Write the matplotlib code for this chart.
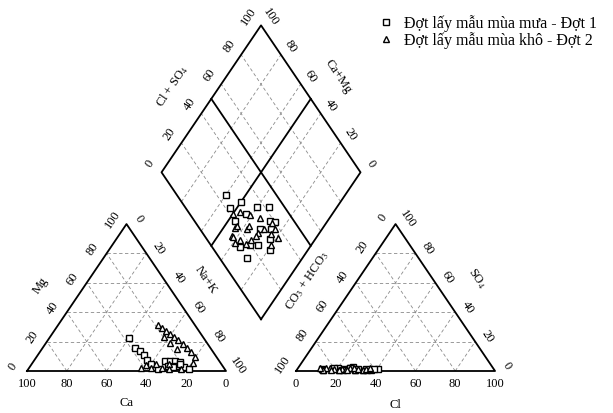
import numpy as np
import matplotlib.pyplot as plt
from matplotlib.lines import Line2D

plt.rcParams['font.family'] = ['Liberation Serif', 'DejaVu Serif']
plt.rcParams['mathtext.fontset'] = 'stix'

# Dot 1 (rainy season) - ionic composition, % meq/l
ca_1 = [37.5, 37.9, 36.4, 35.7, 35.9, 35.3, 27.3, 24.7, 22.2, 20.1, 27.4, 23.4, 19.8, 33.5, 17.9, 25.5, 21.0]
mg_1 = [22.4, 15.6, 13.6, 10.9, 7.5, 4.8, 6.8, 6.8, 6.8, 6.1, 3.4, 3.4, 2.7, 1.4, 1.4, 2.5, 4.5]
cl_1 = [23.5, 20.0, 29.0, 18.5, 26.0, 35.0, 40.5, 27.5, 37.0, 38.5, 18.0, 23.0, 30.5, 12.5, 26.0, 13.0, 34.5]
so4_1 = [1.5, 2.0, 1.0, 1.5, 2.0, 1.0, 1.5, 2.5, 1.0, 1.5, 2.0, 1.0, 1.5, 1.5, 2.0, 1.0, 1.5]

# Dot 2 (dry season)
ca_2 = [18.5, 17.5, 16.6, 15.5, 14.6, 13.5, 12.4, 11.8, 11.1, 19.7, 18.6, 17.1, 41.7, 38.1, 36.7, 32.8, 31.2,
        10.8, 13.9, 26.0, 28.0, 22.0]
mg_2 = [31.3, 29.3, 27.2, 25.2, 23.1, 21.1, 18.4, 15.6, 12.9, 23.1, 19.0, 15.0, 2.0, 4.1, 2.0, 4.8, 2.0,
        9.5, 5.4, 5.0, 1.5, 1.5]
cl_2 = [21.0, 24.5, 16.0, 29.0, 22.5, 33.0, 26.0, 36.5, 33.0, 12.5, 14.0, 21.0, 18.5, 13.0, 11.0, 24.5, 17.0,
        28.0, 34.5, 25.0, 30.5, 36.0]
so4_2 = [1.0, 1.5, 2.0, 1.0, 1.5, 1.0, 2.0, 1.5, 1.0, 1.5, 2.0, 1.0, 1.5, 1.0, 2.0, 1.5, 1.0,
         2.0, 1.5, 1.0, 1.5, 2.0]

labels = ['Đợt lấy mẫu mùa mưa - Đợt 1', 'Đợt lấy mẫu mùa khô - Đợt 2']
ticks = [0, 20, 40, 60, 80, 100]

H = np.sqrt(3) / 2
GAP = 0.352
X0 = 1 + GAP                      # left corner of anion triangle
BX, BY = 1 + GAP / 2, GAP * H     # bottom corner of diamond


def cation_xy(ca, mg):
    ca, mg = np.asarray(ca) / 100, np.asarray(mg) / 100
    na = 1 - ca - mg
    return na + mg / 2, mg * H


def anion_xy(cl, so4):
    cl, so4 = np.asarray(cl) / 100, np.asarray(so4) / 100
    return X0 + cl + so4 / 2, so4 * H


def diamond_xy(ca, mg, cl, so4):
    c = (np.asarray(ca) + np.asarray(mg)) / 100
    s = (np.asarray(cl) + np.asarray(so4)) / 100
    return BX + 0.5 * (s - c), BY + H * (s + c)


fig = plt.figure(figsize=(6.13, 4.14), dpi=100)
ax = fig.add_axes([0, 0, 1, 1])
ax.set_xlim(-27 / 199, 586 / 199)
ax.set_ylim(-42 / 169.7 * H / 0.866, 372 / 169.7 * H / 0.866)
ax.axis('off')

grid = dict(color='#8a8a8a', lw=0.6, ls=(0, (4, 3)), zorder=1)
edge = dict(color='black', lw=1.3, zorder=2)

# triangles
for x0 in (0, X0):
    for k in (0.2, 0.4, 0.6, 0.8):
        ax.plot([x0 + k / 2, x0 + 1 - k / 2], [k * H, k * H], **grid)
        ax.plot([x0 + k, x0 + 0.5 + k / 2], [0, (1 - k) * H], **grid)
        ax.plot([x0 + 1 - k, x0 + (1 - k) / 2], [0, (1 - k) * H], **grid)
    ax.plot([x0, x0 + 1, x0 + 0.5, x0], [0, 0, H, 0], **edge)

# diamond
for k in (0.2, 0.4, 0.6, 0.8):
    ax.plot([BX + k / 2, BX + k / 2 - 0.5], [BY + k * H, BY + k * H + H], **grid)
    ax.plot([BX - k / 2, BX - k / 2 + 0.5], [BY + k * H, BY + k * H + H], **grid)
ax.plot([BX + 0.25, BX - 0.25], [BY + 0.5 * H, BY + 1.5 * H], **edge)
ax.plot([BX - 0.25, BX + 0.25], [BY + 0.5 * H, BY + 1.5 * H], **edge)
ax.plot([BX, BX + 0.5, BX, BX - 0.5, BX], [BY, BY + H, BY + 2 * H, BY + H, BY], **edge)


def lab(txt, x, y, dx, dy, rot=0, fs=9):
    ax.annotate(txt, (x, y), xytext=(dx, dy), textcoords='offset pixels',
                ha='center', va='center', rotation=rot, rotation_mode='anchor', fontsize=fs)


for t in ticks:
    f = t / 100
    # cation triangle
    lab(str(100 - t), f, 0, 0, -12)
    lab(str(t), f / 2, f * H, -14, 5, 56)
    lab(str(t), 0.5 + f / 2, (1 - f) * H, 12, 6, -56)
    # anion triangle
    lab(str(t), X0 + f, 0, 0, -12)
    lab(str(100 - t), X0 + f / 2, f * H, -13, 7, 56)
    lab(str(t), X0 + 1 - f / 2, f * H, 12, 6, -56)
    # diamond
    lab(str(t), BX - 0.5 + f / 2, BY + H + f * H, -12, 10, 56)
    lab(str(t), BX + 0.5 - f / 2, BY + H + f * H, 10, 9, -56)

lab('Ca', 0.5, 0, 0, -31)
lab('Mg', 0.25, 0.5 * H, -36, 13, 56)
lab('Na+K', 0.75, 0.5 * H, 30, 18, -56)
lab('Cl', X0 + 0.5, 0, 0, -33)
lab('CO$_3$ + HCO$_3$', X0 + 0.25, 0.5 * H, -38, 18, 56)
lab('SO$_4$', X0 + 0.75, 0.5 * H, 32, 20, -56)
lab('Cl + SO$_4$', BX - 0.25, BY + 1.5 * H, -39, 14, 56)
lab('Ca+Mg', BX + 0.25, BY + 1.5 * H, 27, 23, -56)

# samples
series = [(ca_1, mg_1, cl_1, so4_1, 's'), (ca_2, mg_2, cl_2, so4_2, '^')]
for ca, mg, cl, so4, m in series:
    style = dict(ls='none', marker=m, ms=4.8, mfc='white', mec='black', mew=1.0, zorder=3)
    ax.plot(*cation_xy(ca, mg), **style)
    ax.plot(*anion_xy(cl, so4), **style)
    ax.plot(*diamond_xy(ca, mg, cl, so4), **style)

handles = [Line2D([], [], ls='none', marker=m, ms=4.5, mfc='white', mec='black', mew=1.0)
           for m in ('s', '^')]
fig.legend(handles, labels, loc='upper left', bbox_to_anchor=(0.603, 0.982), frameon=False,
           fontsize=11.5, handlelength=1.0, handletextpad=0.65, labelspacing=0.0, borderpad=0)

fig.savefig('out.png', dpi=100)
